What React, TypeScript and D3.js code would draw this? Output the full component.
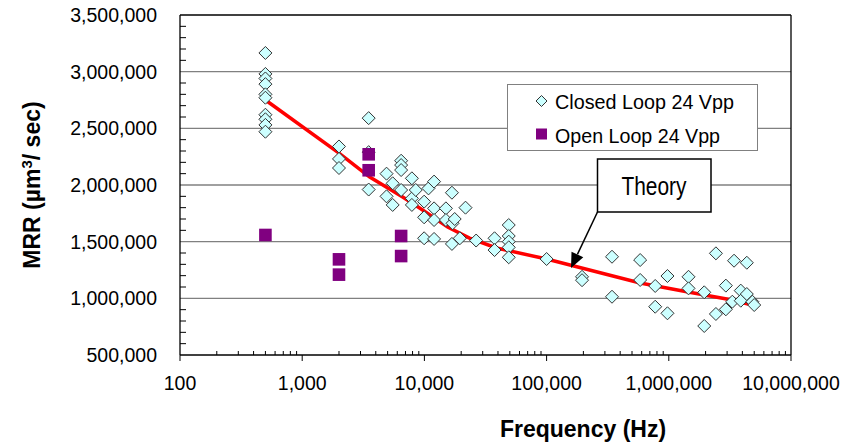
import React from 'react';
import * as d3 from 'd3';

// closed loop 24 Vpp measurements [frequency Hz, MRR um^3/sec]
const closedLoop: [number, number][] = [
  [500, 3165000], [500, 2980000], [500, 2940000], [500, 2890000], [500, 2800000],
  [500, 2770000], [500, 2620000], [500, 2580000], [500, 2530000], [500, 2470000],
  [2000, 2340000], [2000, 2230000], [2000, 2150000],
  [3500, 2590000], [3500, 2290000], [3500, 1960000],
  [4900, 2100000], [4900, 1900000],
  [5500, 2015000], [5500, 1824000],
  [6450, 2214000], [6450, 2176000], [6450, 2132000], [6450, 1956000],
  [7900, 2059000], [7900, 1882000], [7900, 1824000],
  [8500, 1956000],
  [9950, 1853000], [9950, 1715000], [9950, 1530000],
  [10800, 1970000],
  [12000, 2030000], [12000, 1794000], [12000, 1691000], [12000, 1524000],
  [15000, 1794000], [15000, 1691000],
  [16800, 1932000], [16800, 1480000], [17000, 1662000], [17700, 1700000],
  [19500, 1530000], [21700, 1800000], [26500, 1510000],
  [37500, 1530000], [37500, 1426000],
  [49000, 1647000], [49000, 1550000], [49000, 1500000], [49000, 1450000], [49000, 1362000],
  [100000, 1347000],
  [195000, 1190000], [195000, 1160000],
  [343000, 1367000], [343000, 1014000],
  [583000, 1338000], [583000, 1162000],
  [774000, 1109000], [774000, 926000],
  [975000, 1197000], [975000, 868000],
  [1450000, 1190000], [1450000, 1088000],
  [1950000, 1053000], [1950000, 756000],
  [2430000, 1397000], [2430000, 862000],
  [2930000, 1112000], [2930000, 903000],
  [3420000, 1332000], [3310000, 970000],
  [3880000, 1068000], [3880000, 979000],
  [4350000, 1314000], [4350000, 1038000],
  [4830000, 970000], [5000000, 941000],
];

// open loop 24 Vpp measurements
const openLoop: [number, number][] = [
  [500, 1559000],
  [2000, 1344000], [2000, 1209000],
  [3500, 2271000], [3500, 2130000],
  [6450, 1550000], [6450, 1373000],
];

// theory curve
const theory: [number, number][] = [
  [500, 2750000], [2000, 2282000], [3570, 2070000], [6640, 1894000],
  [9140, 1797000], [15500, 1629000], [23400, 1532000], [38900, 1444000],
  [100000, 1347000], [583000, 1135000], [1440000, 1056000],
  [3300000, 985000], [4800000, 940000],
];

const xTicks = [100, 1000, 10000, 100000, 1000000, 10000000];
const yTicks = [500000, 1000000, 1500000, 2000000, 2500000, 3000000, 3500000];

const FONT = "'Liberation Sans', Arial, Helvetica, sans-serif";

export default function App() {
  const width = 844;
  const height = 448;
  const x = d3.scaleLog().domain([100, 1e7]).range([180, 791]);
  const y = d3.scaleLinear().domain([500000, 3500000]).range([355, 15]);
  const fmt = d3.format(',');

  const line = d3.line<[number, number]>()
    .x(d => x(d[0]))
    .y(d => y(d[1]));

  // minor ticks
  const xMinor: number[] = [];
  for (let dec = 100; dec < 1e7; dec *= 10) {
    for (let k = 2; k <= 9; k++) xMinor.push(dec * k);
  }
  const yMinor = d3.range(500000, 3500001, 100000).filter(v => v % 500000 !== 0);

  const diamond = (cx: number, cy: number, r: number) =>
    `M${cx},${cy - r}L${cx + r},${cy}L${cx},${cy + r}L${cx - r},${cy}Z`;

  // annotation arrow
  const ax0 = 597.5, ay0 = 212, ax1 = 571, ay1 = 268;
  const ang = Math.atan2(ay1 - ay0, ax1 - ax0);
  const hl = 15, hw = 6.5;
  const bx = ax1 - hl * Math.cos(ang), by = ay1 - hl * Math.sin(ang);
  const head = [
    [ax1, ay1],
    [bx + hw * Math.sin(ang), by - hw * Math.cos(ang)],
    [bx - hw * Math.sin(ang), by + hw * Math.cos(ang)],
  ].map(p => p.join(',')).join(' ');

  const [x0, x1] = x.range();
  const [yb, yt] = y.range();

  return (
    <svg width={width} height={height} style={{ position: 'absolute', left: 0, top: 0, background: '#fff' }}
      fontFamily={FONT}>
      {/* gridlines */}
      {yTicks.slice(1, -1).map(v => (
        <line key={v} x1={x0} x2={x1} y1={y(v)} y2={y(v)} stroke="#808080" strokeWidth={1.3} />
      ))}
      {/* frame */}
      <line x1={x0} x2={x1} y1={yt} y2={yt} stroke="#000" strokeWidth={1.3} />
      <line x1={x1} x2={x1} y1={yt} y2={yb} stroke="#000" strokeWidth={1.3} />
      <line x1={x0} x2={x0} y1={yt} y2={yb} stroke="#000" strokeWidth={1.3} />
      <line x1={x0} x2={x1} y1={yb} y2={yb} stroke="#000" strokeWidth={1.3} />
      {yMinor.map(v => (
        <line key={v} x1={x0} x2={x0 + 6} y1={y(v)} y2={y(v)} stroke="#000" strokeWidth={1} />
      ))}
      {xMinor.map(v => (
        <line key={v} x1={x(v)} x2={x(v)} y1={yb} y2={yb - 4} stroke="#000" strokeWidth={1} />
      ))}
      {xTicks.map(v => (
        <line key={v} x1={x(v)} x2={x(v)} y1={yb} y2={yb + 6} stroke="#000" strokeWidth={1} />
      ))}

      {/* tick labels */}
      {yTicks.map(v => (
        <text key={v} x={157} y={y(v)} dy="0.36em" textAnchor="end" fontSize={19.5}>{fmt(v)}</text>
      ))}
      {xTicks.map(v => (
        <text key={v} x={x(v)} y={390} textAnchor="middle" fontSize={19.5}>{fmt(v)}</text>
      ))}

      {/* axis titles */}
      <text x={583} y={437} textAnchor="middle" fontSize={23} fontWeight="bold">Frequency (Hz)</text>
      <text transform="translate(40,185) rotate(-90)" textAnchor="middle" fontSize={23} fontWeight="bold">
        MRR (µm<tspan dy={-8} fontSize={15}>3</tspan><tspan dy={8}>/ sec)</tspan>
      </text>

      {/* theory line */}
      <path d={line(theory) || ''} fill="none" stroke="#ff0000" strokeWidth={3.5} />

      {/* closed loop */}
      {closedLoop.map((d, i) => (
        <path key={i} d={diamond(x(d[0]), y(d[1]), 6.5)} fill="#ccffff" stroke="#333" strokeWidth={1} />
      ))}
      {/* open loop */}
      {openLoop.map((d, i) => (
        <rect key={i} x={x(d[0]) - 6.3} y={y(d[1]) - 6.3} width={12.6} height={12.6} fill="#800080" />
      ))}

      {/* legend */}
      <rect x={507.5} y={84.5} width={250} height={66} fill="#fff" stroke="#808080" strokeWidth={1} />
      <path d={diamond(541.5, 101, 5.5)} fill="#ccffff" stroke="#333" strokeWidth={1} />
      <text x={555} y={109} fontSize={21} textLength={179} lengthAdjust="spacingAndGlyphs">Closed Loop 24 Vpp</text>
      <rect x={536} y={128.5} width={11} height={11} fill="#800080" />
      <text x={555} y={142.5} fontSize={21} textLength={165} lengthAdjust="spacingAndGlyphs">Open Loop 24 Vpp</text>

      {/* theory annotation */}
      <line x1={ax0} y1={ay0} x2={bx} y2={by} stroke="#000" strokeWidth={1.5} />
      <polygon points={head} fill="#000" />
      <rect x={597.5} y={159} width={113.5} height={53} fill="#fff" stroke="#000" strokeWidth={1.5} />
      <text x={654} y={195} textAnchor="middle" fontSize={26} textLength={65} lengthAdjust="spacingAndGlyphs">Theory</text>
    </svg>
  );
}
